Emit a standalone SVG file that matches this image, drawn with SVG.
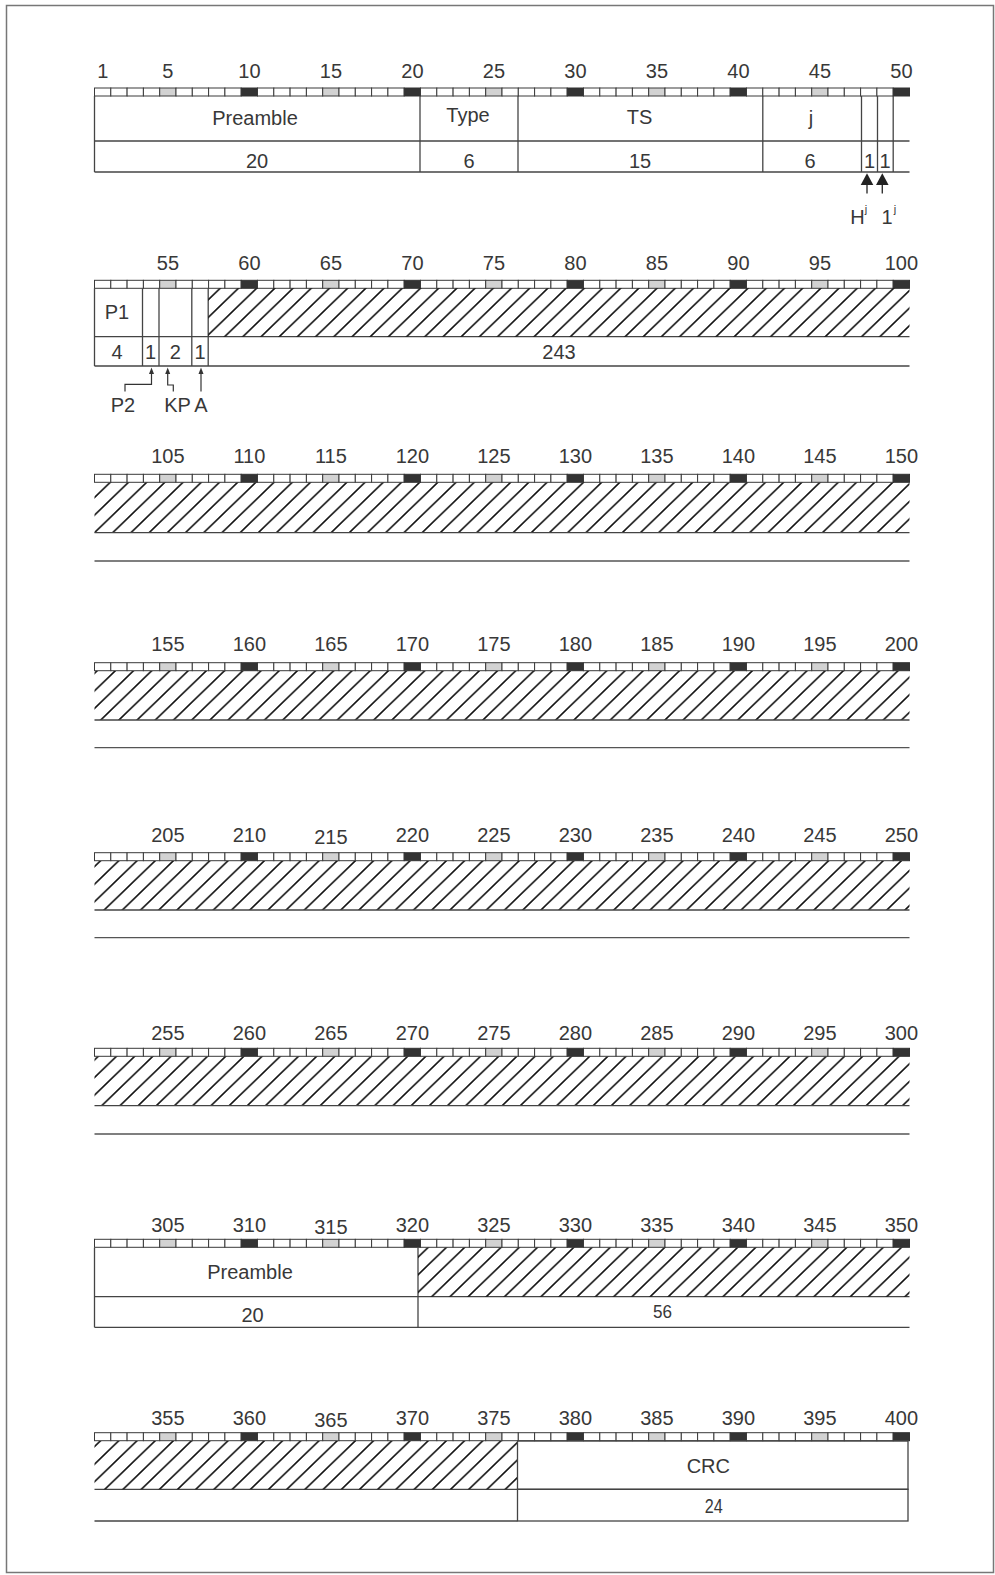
<svg xmlns="http://www.w3.org/2000/svg" width="995" height="1575" viewBox="0 0 995 1575">
<style>
.c{fill:#fff;stroke:#3a3a3a;stroke-width:1}
.g{fill:#d2d2d2;stroke:#3a3a3a;stroke-width:1}
.k{fill:#333;stroke:#333;stroke-width:1}
.t{font-family:"Liberation Sans",Arial,sans-serif;font-size:20px;fill:#383838;text-anchor:middle}
.f{fill:none;stroke:#444;stroke-width:1.3}
.ln{fill:none;stroke:#555;stroke-width:1.3}
.h{fill:url(#hatch);stroke:none}
.ar{fill:none;stroke:#333;stroke-width:1.2}
.ah{fill:#333}
</style>
<defs>
<pattern id="hatch" patternUnits="userSpaceOnUse" width="18.2" height="40" patternTransform="skewX(-46)">
<line x1="9.1" y1="-1" x2="9.1" y2="41" stroke="#111" stroke-width="2.3"/>
</pattern>
<g id="ruler">
<rect class="c" x="94.5" y="0" width="16.3" height="8"/><rect class="c" x="110.8" y="0" width="16.3" height="8"/><rect class="c" x="127.1" y="0" width="16.3" height="8"/><rect class="c" x="143.4" y="0" width="16.3" height="8"/><rect class="g" x="159.7" y="0" width="16.3" height="8"/>
<rect class="c" x="176" y="0" width="16.3" height="8"/><rect class="c" x="192.3" y="0" width="16.3" height="8"/><rect class="c" x="208.6" y="0" width="16.3" height="8"/><rect class="c" x="224.9" y="0" width="16.3" height="8"/><rect class="k" x="241.2" y="0" width="16.3" height="8"/>
<rect class="c" x="257.5" y="0" width="16.3" height="8"/><rect class="c" x="273.8" y="0" width="16.3" height="8"/><rect class="c" x="290.1" y="0" width="16.3" height="8"/><rect class="c" x="306.4" y="0" width="16.3" height="8"/><rect class="g" x="322.7" y="0" width="16.3" height="8"/>
<rect class="c" x="339" y="0" width="16.3" height="8"/><rect class="c" x="355.3" y="0" width="16.3" height="8"/><rect class="c" x="371.6" y="0" width="16.3" height="8"/><rect class="c" x="387.9" y="0" width="16.3" height="8"/><rect class="k" x="404.2" y="0" width="16.3" height="8"/>
<rect class="c" x="420.5" y="0" width="16.3" height="8"/><rect class="c" x="436.8" y="0" width="16.3" height="8"/><rect class="c" x="453.1" y="0" width="16.3" height="8"/><rect class="c" x="469.4" y="0" width="16.3" height="8"/><rect class="g" x="485.7" y="0" width="16.3" height="8"/>
<rect class="c" x="502" y="0" width="16.3" height="8"/><rect class="c" x="518.3" y="0" width="16.3" height="8"/><rect class="c" x="534.6" y="0" width="16.3" height="8"/><rect class="c" x="550.9" y="0" width="16.3" height="8"/><rect class="k" x="567.2" y="0" width="16.3" height="8"/>
<rect class="c" x="583.5" y="0" width="16.3" height="8"/><rect class="c" x="599.8" y="0" width="16.3" height="8"/><rect class="c" x="616.1" y="0" width="16.3" height="8"/><rect class="c" x="632.4" y="0" width="16.3" height="8"/><rect class="g" x="648.7" y="0" width="16.3" height="8"/>
<rect class="c" x="665" y="0" width="16.3" height="8"/><rect class="c" x="681.3" y="0" width="16.3" height="8"/><rect class="c" x="697.6" y="0" width="16.3" height="8"/><rect class="c" x="713.9" y="0" width="16.3" height="8"/><rect class="k" x="730.2" y="0" width="16.3" height="8"/>
<rect class="c" x="746.5" y="0" width="16.3" height="8"/><rect class="c" x="762.8" y="0" width="16.3" height="8"/><rect class="c" x="779.1" y="0" width="16.3" height="8"/><rect class="c" x="795.4" y="0" width="16.3" height="8"/><rect class="g" x="811.7" y="0" width="16.3" height="8"/>
<rect class="c" x="828" y="0" width="16.3" height="8"/><rect class="c" x="844.3" y="0" width="16.3" height="8"/><rect class="c" x="860.6" y="0" width="16.3" height="8"/><rect class="c" x="876.9" y="0" width="16.3" height="8"/><rect class="k" x="893.2" y="0" width="16.3" height="8"/>
</g>
</defs>
<rect x="6.5" y="5.5" width="987" height="1567" fill="#fff" stroke="#777" stroke-width="1.5"/>

<!-- Row 1 -->
<g id="row1">
<use href="#ruler" y="88"/>
<g class="t"><text x="102.7" y="78">1</text><text x="167.9" y="78">5</text><text x="249.4" y="78">10</text><text x="330.9" y="78">15</text><text x="412.4" y="78">20</text><text x="493.9" y="78">25</text><text x="575.4" y="78">30</text><text x="656.9" y="78">35</text><text x="738.4" y="78">40</text><text x="819.9" y="78">45</text><text x="901.4" y="78">50</text></g>
<line class="f" x1="94.5" y1="141" x2="909.5" y2="141"/>
<line class="f" x1="94.5" y1="172" x2="909.5" y2="172"/>
</g>
<g id="r1-preamble"><line class="f" x1="94.5" y1="96" x2="94.5" y2="172"/><text class="t" x="255" y="125">Preamble</text><text class="t" x="257" y="168">20</text></g>
<g id="r1-type"><line class="f" x1="420" y1="96" x2="420" y2="172"/><text class="t" x="468" y="122">Type</text><text class="t" x="469" y="168">6</text></g>
<g id="r1-ts"><line class="f" x1="518" y1="96" x2="518" y2="172"/><text class="t" x="639.5" y="124">TS</text><text class="t" x="640" y="168">15</text></g>
<g id="r1-j"><line class="f" x1="762.8" y1="96" x2="762.8" y2="172"/><text class="t" x="811" y="125">j</text><text class="t" x="810" y="168">6</text></g>
<g id="r1-h"><line class="f" x1="861.5" y1="96" x2="861.5" y2="172"/><text class="t" x="869.5" y="168">1</text></g>
<g id="r1-one"><line class="f" x1="877.5" y1="96" x2="877.5" y2="172"/><line class="f" x1="893.2" y1="96" x2="893.2" y2="172"/><text class="t" x="885" y="168">1</text></g>
<g id="lbl-h"><text class="t" x="857.5" y="223.5">H</text><text class="t" style="font-size:11px" x="866" y="213">j</text></g>
<g id="lbl-1"><text class="t" x="887" y="223.5">1</text><text class="t" style="font-size:11px" x="895" y="213">j</text></g>

<!-- Row 2 -->
<g id="row2">
<use href="#ruler" y="280.3"/>
<g class="t"><text x="167.9" y="270">55</text><text x="249.4" y="270">60</text><text x="330.9" y="270">65</text><text x="412.4" y="270">70</text><text x="493.9" y="270">75</text><text x="575.4" y="270">80</text><text x="656.9" y="270">85</text><text x="738.4" y="270">90</text><text x="819.9" y="270">95</text><text x="901.4" y="270">100</text></g>
<line class="f" x1="94.5" y1="336.7" x2="909.5" y2="336.7"/>
<line class="f" x1="94.5" y1="366" x2="909.5" y2="366"/>
</g>
<g id="r2-p1"><line class="f" x1="94.5" y1="288.3" x2="94.5" y2="366"/><text class="t" x="117" y="319">P1</text><text class="t" x="117" y="358.5">4</text></g>
<g id="r2-p2"><line class="f" x1="142.5" y1="288.3" x2="142.5" y2="366"/><text class="t" x="150.5" y="358.5">1</text></g>
<g id="r2-kp"><line class="f" x1="159" y1="288.3" x2="159" y2="366"/><text class="t" x="175.4" y="358.5">2</text></g>
<g id="r2-a"><line class="f" x1="191.8" y1="288.3" x2="191.8" y2="366"/><line class="f" x1="208.2" y1="288.3" x2="208.2" y2="366"/><text class="t" x="200" y="358.5">1</text></g>
<g id="r2-data"><rect class="h" x="208.2" y="288.3" width="701.3" height="48.4"/><text class="t" x="559" y="358.5">243</text></g>
<g id="lbl-p2"><text class="t" x="123" y="411.5">P2</text></g>
<g id="lbl-kp"><text class="t" x="177.5" y="411.5">KP</text></g>
<g id="lbl-a"><text class="t" x="201" y="411.5">A</text></g>

<!-- Row 3 -->
<g id="row3">
<use href="#ruler" y="474.3"/>
<g class="t"><text x="167.9" y="462.7">105</text><text x="249.4" y="462.7">110</text><text x="330.9" y="462.7">115</text><text x="412.4" y="462.7">120</text><text x="493.9" y="462.7">125</text><text x="575.4" y="462.7">130</text><text x="656.9" y="462.7">135</text><text x="738.4" y="462.7">140</text><text x="819.9" y="462.7">145</text><text x="901.4" y="462.7">150</text></g>
<rect class="h" x="94.5" y="482.6" width="815" height="50.1"/>
<line class="f" x1="94.5" y1="532.7" x2="909.5" y2="532.7"/>
<line class="ln" x1="94.5" y1="561" x2="909.5" y2="561"/>
</g>

<!-- Row 4 -->
<g id="row4">
<use href="#ruler" y="662.7"/>
<g class="t"><text x="167.9" y="650.7">155</text><text x="249.4" y="650.7">160</text><text x="330.9" y="650.7">165</text><text x="412.4" y="650.7">170</text><text x="493.9" y="650.7">175</text><text x="575.4" y="650.7">180</text><text x="656.9" y="650.7">185</text><text x="738.4" y="650.7">190</text><text x="819.9" y="650.7">195</text><text x="901.4" y="650.7">200</text></g>
<rect class="h" x="94.5" y="671" width="815" height="49"/>
<line class="f" x1="94.5" y1="720" x2="909.5" y2="720"/>
<line class="ln" x1="94.5" y1="747.7" x2="909.5" y2="747.7"/>
</g>

<!-- Row 5 -->
<g id="row5">
<use href="#ruler" y="852.7"/>
<g class="t"><text x="167.9" y="841.7">205</text><text x="249.4" y="841.7">210</text><text x="330.9" y="843.5">215</text><text x="412.4" y="841.7">220</text><text x="493.9" y="841.7">225</text><text x="575.4" y="841.7">230</text><text x="656.9" y="841.7">235</text><text x="738.4" y="841.7">240</text><text x="819.9" y="841.7">245</text><text x="901.4" y="841.7">250</text></g>
<rect class="h" x="94.5" y="861" width="815" height="49"/>
<line class="f" x1="94.5" y1="910" x2="909.5" y2="910"/>
<line class="ln" x1="94.5" y1="937.7" x2="909.5" y2="937.7"/>
</g>

<!-- Row 6 -->
<g id="row6">
<use href="#ruler" y="1048.3"/>
<g class="t"><text x="167.9" y="1040">255</text><text x="249.4" y="1040">260</text><text x="330.9" y="1040">265</text><text x="412.4" y="1040">270</text><text x="493.9" y="1040">275</text><text x="575.4" y="1040">280</text><text x="656.9" y="1040">285</text><text x="738.4" y="1040">290</text><text x="819.9" y="1040">295</text><text x="901.4" y="1040">300</text></g>
<rect class="h" x="94.5" y="1056.6" width="815" height="49.1"/>
<line class="f" x1="94.5" y1="1105.7" x2="909.5" y2="1105.7"/>
<line class="ln" x1="94.5" y1="1134" x2="909.5" y2="1134"/>
</g>

<!-- Row 7 -->
<g id="row7">
<use href="#ruler" y="1239.3"/>
<g class="t"><text x="167.9" y="1231.7">305</text><text x="249.4" y="1231.7">310</text><text x="330.9" y="1233.5">315</text><text x="412.4" y="1231.7">320</text><text x="493.9" y="1231.7">325</text><text x="575.4" y="1231.7">330</text><text x="656.9" y="1231.7">335</text><text x="738.4" y="1231.7">340</text><text x="819.9" y="1231.7">345</text><text x="901.4" y="1231.7">350</text></g>
<line class="f" x1="94.5" y1="1296.7" x2="909.5" y2="1296.7"/>
<line class="f" x1="94.5" y1="1327.3" x2="909.5" y2="1327.3"/>
</g>
<g id="r7-preamble"><line class="f" x1="94.5" y1="1247.6" x2="94.5" y2="1327.3"/><line class="f" x1="418" y1="1247.6" x2="418" y2="1327.3"/><text class="t" x="250" y="1279">Preamble</text><text class="t" x="252.5" y="1322">20</text></g>
<g id="r7-data"><rect class="h" x="418" y="1247.6" width="491.5" height="49.1"/><text class="t" style="font-size:18px" x="662.6" y="1318" textLength="19" lengthAdjust="spacingAndGlyphs">56</text></g>

<!-- Row 8 -->
<g id="row8">
<use href="#ruler" y="1432.7"/>
<g class="t"><text x="167.9" y="1425">355</text><text x="249.4" y="1425">360</text><text x="330.9" y="1427">365</text><text x="412.4" y="1425">370</text><text x="493.9" y="1425">375</text><text x="575.4" y="1425">380</text><text x="656.9" y="1425">385</text><text x="738.4" y="1425">390</text><text x="819.9" y="1425">395</text><text x="901.4" y="1425">400</text></g>
<line class="f" x1="94.5" y1="1489.3" x2="517.5" y2="1489.3"/>
<line class="f" x1="94.5" y1="1521" x2="517.5" y2="1521"/>
</g>
<g id="r8-data"><rect class="h" x="94.5" y="1441" width="423" height="48.3"/></g>
<g id="r8-crc"><rect class="f" x="517.5" y="1441" width="390.5" height="48.3"/><rect class="f" x="517.5" y="1489.3" width="390.5" height="31.7"/><text class="t" x="708.3" y="1473">CRC</text><text class="t" style="font-size:21px" x="713.8" y="1513" textLength="18" lengthAdjust="spacingAndGlyphs">24</text></g>

<!-- Connectors -->
<g id="connectors">
<path d="M867,173.3 L873.3,185 L860.7,185 Z" fill="#222"/>
<line x1="867" y1="185" x2="867" y2="193.5" stroke="#333" stroke-width="1.4"/>
<path d="M882.3,173.3 L888.6,185 L876,185 Z" fill="#222"/>
<line x1="882.3" y1="185" x2="882.3" y2="193.5" stroke="#333" stroke-width="1.4"/>
<path class="ar" d="M125,391.5 V384.3 H151.5 V373"/>
<path class="ah" d="M151.5,367.5 L154,374 L149,374 Z"/>
<path class="ar" d="M173.3,391.5 V385 H167.7 V373"/>
<path class="ah" d="M167.7,367.5 L170.2,374 L165.2,374 Z"/>
<path class="ar" d="M201,391.5 V373"/>
<path class="ah" d="M201,367.5 L203.5,374 L198.5,374 Z"/>
</g>
</svg>
